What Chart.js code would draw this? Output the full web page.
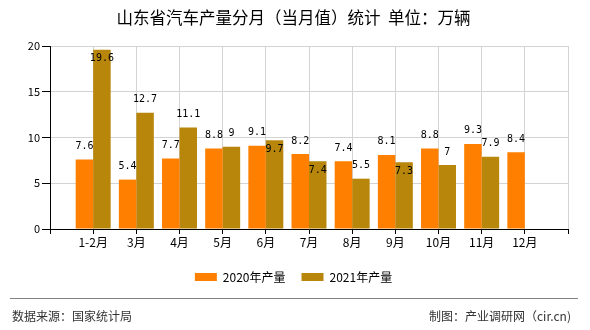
<!DOCTYPE html>
<html>
<head>
<meta charset="utf-8">
<script src="https://cdn.jsdelivr.net/npm/chart.js@4/dist/chart.umd.min.js"></script>
<style>
    html, body { margin: 0; padding: 0; background: #fff; }
    #chartBox { width: 590px; height: 330px; }
</style>
</head>
<body>
<div id="chartBox"><canvas id="chart1"></canvas></div>
<script>
const months = ['1-2月', '3月', '4月', '5月', '6月', '7月', '8月', '9月', '10月', '11月', '12月'];
const output2020 = [7.6, 5.4, 7.7, 8.8, 9.1, 8.2, 7.4, 8.1, 8.8, 9.3, 8.4];
const output2021 = [19.6, 12.7, 11.1, 9, 9.7, 7.4, 5.5, 7.3, 7, 7.9, null];
const yTicks = [0, 5, 10, 15, 20];

const cjkFont = '"Noto Sans CJK SC", "DejaVu Sans", sans-serif';

// the x axis has an empty slot at each end, so the months sit on the grid lines
const xLabels = [''].concat(months, ['']);
const pad = arr => [null].concat(arr, [null]);

const valueLabels = {
    id: 'valueLabels',
    afterDatasetsDraw(chart) {
        const ctx = chart.ctx;
        const area = chart.chartArea;
        ctx.save();
        ctx.font = '10px "DejaVu Sans Mono", monospace';
        ctx.fillStyle = '#000';
        ctx.textAlign = 'center';
        ctx.textBaseline = 'middle';
        const placed = [];
        chart.data.datasets.forEach((ds, di) => {
            const meta = chart.getDatasetMeta(di);
            meta.data.forEach((bar, i) => {
                const v = ds.data[i];
                if (v === null || v === undefined) return;
                const text = String(v);
                const w = ctx.measureText(text).width;
                let y = bar.y - 13;
                let clash = y - 6 < area.top;
                (placed[i] || []).forEach(p => {
                    if (Math.abs(p.x - bar.x) < (p.w + w) / 2 && Math.abs(p.y - y) < 10) clash = true;
                });
                if (clash) y = bar.y + 9;
                placed[i] = (placed[i] || []).concat([{ x: bar.x, y: y, w: w }]);
                ctx.fillText(text, bar.x, y);
            });
        });
        ctx.restore();
    }
};

const footer = {
    id: 'footer',
    afterDraw(chart) {
        const ctx = chart.ctx;
        ctx.save();
        ctx.strokeStyle = '#808080';
        ctx.lineWidth = 1;
        ctx.beginPath();
        ctx.moveTo(10, 298.5);
        ctx.lineTo(578, 298.5);
        ctx.stroke();
        ctx.font = '12px ' + cjkFont;
        ctx.fillStyle = '#333';
        ctx.textBaseline = 'middle';
        ctx.textAlign = 'left';
        ctx.fillText('数据来源：国家统计局', 12, 316);
        ctx.textAlign = 'right';
        ctx.fillText('制图：产业调研网（cir.cn)', 571, 316);
        ctx.restore();
    }
};

new Chart(document.getElementById('chart1'), {
    type: 'bar',
    data: {
        labels: xLabels,
        datasets: [
            {
                label: '2020年产量',
                data: pad(output2020),
                backgroundColor: '#FF8000',
                borderWidth: 0,
                categoryPercentage: 0.81,
                barPercentage: 1
            },
            {
                label: '2021年产量',
                data: pad(output2021),
                backgroundColor: '#B8860B',
                borderWidth: 0,
                categoryPercentage: 0.81,
                barPercentage: 1
            }
        ]
    },
    options: {
        responsive: true,
        maintainAspectRatio: false,
        animation: false,
        events: [],
        layout: { padding: { left: 19, right: 22, top: 0, bottom: 37 } },
        scales: {
            x: {
                offset: false,
                grid: { offset: false, color: '#d3d3d3', tickColor: '#000', tickLength: 5 },
                border: { color: '#000' },
                ticks: {
                    color: '#000',
                    font: { size: 12, family: cjkFont },
                    padding: 1,
                    autoSkip: false,
                    maxRotation: 0
                },
                afterFit: scale => { scale.height = 26; }
            },
            y: {
                min: 0,
                max: 20,
                afterBuildTicks: scale => { scale.ticks = yTicks.map(v => ({ value: v })); },
                grid: { color: '#d3d3d3', tickColor: '#000', tickLength: 8 },
                border: { color: '#000' },
                ticks: {
                    color: '#000',
                    font: { size: 11, family: cjkFont },
                    padding: 2
                },
                afterFit: scale => { scale.width = 31; }
            }
        },
        plugins: {
            tooltip: { enabled: false },
            title: {
                display: true,
                text: '山东省汽车产量分月（当月值）统计  单位：万辆',
                color: '#000',
                font: { size: 16.5, weight: 'normal', family: cjkFont },
                padding: { top: 8, bottom: 18.2 }
            },
            legend: {
                position: 'bottom',
                labels: {
                    boxWidth: 22,
                    boxHeight: 8,
                    padding: 16,
                    color: '#000',
                    font: { size: 12, family: cjkFont }
                }
            }
        }
    },
    plugins: [valueLabels, footer]
});
</script>
</body>
</html>
